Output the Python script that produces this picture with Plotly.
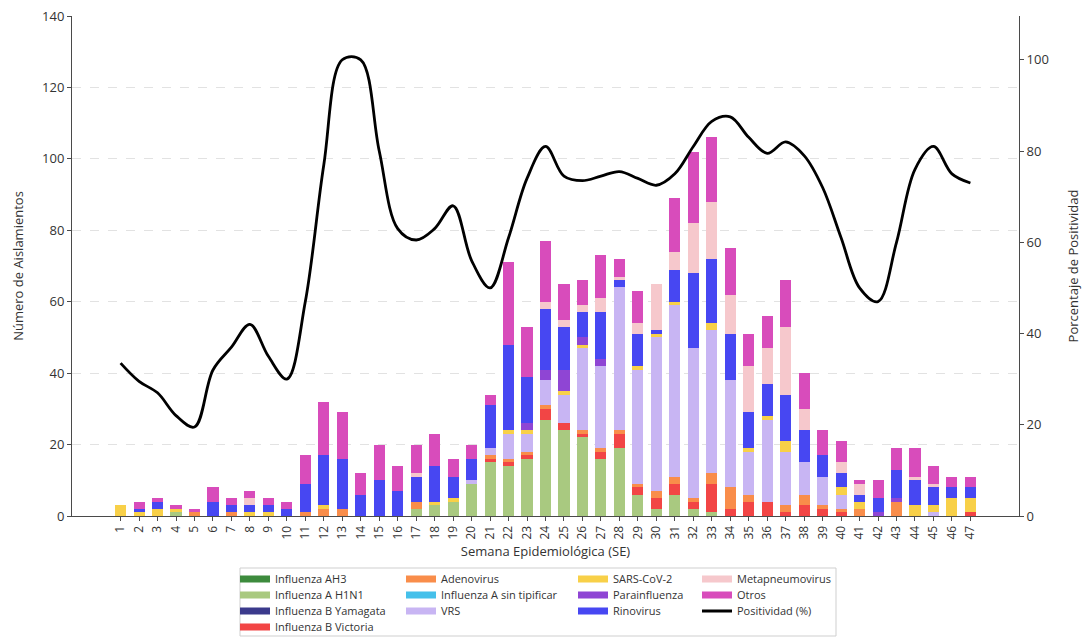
import plotly.graph_objects as go

# Epidemiological weeks
weeks = list(range(1, 48))
week_labels = [str(w) for w in weeks]

# Isolates per week, one list per virus (stack order bottom -> top)
influenza_ah3 = [0, 0, 0, 0, 0, 0, 0, 0, 0, 0, 0, 0, 0, 0, 0, 0, 0, 0, 0, 0, 0, 0, 0, 0,
                 0, 0, 0, 0, 0, 0, 0, 0, 0, 0, 0, 0, 0, 0, 0, 0, 0, 0, 0, 0, 0, 0, 0]
influenza_h1n1 = [0, 0, 0, 1, 0, 0, 0, 0, 0, 0, 0, 0, 0, 0, 0, 0, 2, 3, 4, 9, 15, 14, 16, 27,
                  24, 22, 16, 19, 6, 2, 6, 2, 1, 0, 0, 0, 0, 0, 0, 0, 0, 0, 0, 0, 0, 0, 0]
influenza_b_yamagata = [0, 0, 0, 0, 0, 0, 0, 0, 0, 0, 0, 0, 0, 0, 0, 0, 0, 0, 0, 0, 0, 0, 0, 0,
                        0, 0, 0, 0, 0, 0, 0, 0, 0, 0, 0, 0, 0, 0, 0, 0, 0, 0, 0, 0, 0, 0, 0]
influenza_b_victoria = [0, 0, 0, 0, 0, 0, 0, 0, 0, 0, 0, 0, 0, 0, 0, 0, 0, 0, 0, 0, 1, 1, 1, 3,
                        2, 1, 2, 4, 2, 3, 3, 2, 8, 2, 4, 4, 1, 3, 2, 1, 0, 0, 0, 0, 0, 0, 1]
adenovirus = [0, 0, 0, 0, 1, 0, 1, 0, 0, 0, 1, 2, 2, 0, 0, 0, 2, 0, 0, 0, 1, 1, 1, 1,
              0, 1, 1, 1, 1, 2, 2, 1, 3, 6, 2, 0, 2, 3, 1, 1, 2, 0, 4, 0, 0, 0, 0]
influenza_a_sin_tipificar = [0, 0, 0, 0, 0, 0, 0, 0, 0, 0, 0, 0, 0, 0, 0, 0, 0, 0, 0, 0, 0, 0, 0, 0,
                             0, 0, 0, 0, 0, 0, 0, 0, 0, 0, 0, 0, 0, 0, 0, 0, 0, 0, 0, 0, 0, 0, 0]
vrs = [0, 0, 0, 0, 0, 0, 0, 0, 0, 0, 0, 0, 0, 0, 0, 0, 0, 0, 0, 1, 2, 7, 5, 7,
       8, 23, 23, 40, 32, 43, 48, 42, 40, 30, 12, 23, 15, 9, 8, 4, 0, 0, 0, 0, 1, 0, 0]
sars_cov_2 = [3, 1, 2, 1, 0, 0, 0, 1, 1, 0, 0, 1, 0, 0, 0, 0, 0, 1, 1, 0, 0, 1, 1, 0,
              1, 1, 0, 0, 1, 1, 1, 0, 2, 0, 1, 1, 3, 0, 0, 2, 2, 0, 0, 3, 2, 5, 4]
parainfluenza = [0, 0, 0, 0, 0, 0, 0, 0, 0, 0, 0, 0, 0, 0, 0, 0, 0, 0, 0, 0, 0, 0, 2, 3,
                 6, 2, 2, 0, 0, 0, 0, 0, 0, 0, 0, 0, 0, 0, 0, 0, 0, 1, 1, 0, 0, 0, 0]
rinovirus = [0, 1, 2, 0, 0, 4, 2, 2, 2, 2, 8, 14, 14, 6, 10, 7, 7, 10, 6, 6, 12, 24, 13, 17,
             12, 7, 13, 2, 9, 1, 9, 21, 18, 13, 10, 9, 13, 9, 6, 4, 2, 4, 8, 7, 5, 3, 3]
metapneumovirus = [0, 0, 0, 0, 0, 0, 0, 2, 0, 0, 0, 0, 0, 0, 0, 0, 1, 0, 0, 0, 0, 0, 0, 2,
                   2, 2, 4, 1, 3, 13, 5, 14, 16, 11, 13, 10, 19, 6, 0, 3, 3, 0, 0, 1, 1, 0, 0]
otros = [0, 2, 1, 1, 1, 4, 2, 2, 2, 2, 8, 15, 13, 6, 10, 7, 8, 9, 5, 4, 3, 23, 14, 17,
         10, 7, 12, 5, 9, 0, 15, 20, 18, 13, 9, 9, 13, 10, 7, 6, 1, 5, 6, 8, 5, 3, 3]

# Weekly positivity (%)
positividad = [33.5, 29.5, 27, 22, 19.5, 32, 37, 42, 35, 30, 47, 77, 100, 100, 80, 63,
               60.5, 63, 68, 56, 50, 61, 74, 81, 74.5, 73.5, 74.5, 75.5, 74, 72.5, 75, 81,
               86.5, 87.5, 83, 79.5, 82, 79, 72, 61, 50, 47, 60, 76, 81, 75, 73]

# name, values, colour, legend column, legend row
series = [
    ("Influenza AH3", influenza_ah3, "#3d8b3d", 0, 0),
    ("Influenza A H1N1", influenza_h1n1, "#a9c980", 0, 1),
    ("Influenza B Yamagata", influenza_b_yamagata, "#3b3a8c", 0, 2),
    ("Influenza B Victoria", influenza_b_victoria, "#f24545", 0, 3),
    ("Adenovirus", adenovirus, "#f98d4a", 1, 0),
    ("Influenza A sin tipificar", influenza_a_sin_tipificar, "#45c0ea", 1, 1),
    ("VRS", vrs, "#c8b5f3", 1, 2),
    ("SARS-CoV-2", sars_cov_2, "#f8d048", 2, 0),
    ("Parainfluenza", parainfluenza, "#8f45d4", 2, 1),
    ("Rinovirus", rinovirus, "#4747f2", 2, 2),
    ("Metapneumovirus", metapneumovirus, "#f6c8cc", 3, 0),
    ("Otros", otros, "#d84cbb", 3, 1),
]
line_legend_slot = (3, 2)

# Plot-area geometry in pixels
W, H = 1086, 637
PL, PR, PT, PB = 72, 1019, 16, 516


def paper_x(px):
    return (px - PL) / (PR - PL)


def paper_y(py):
    return (PB - py) / (PB - PT)


legend_text_x = [275, 441, 613, 737]
legend_row_y = [579, 595, 611, 627]

FONT = "Open Sans"
TEXT = "#333333"
AXIS = "#4a4a4a"

fig = go.Figure()
legend_layouts = {}

for i, (name, vals, color, col, row) in enumerate(series):
    lg = "legend" if i == 0 else f"legend{i + 1}"
    fig.add_trace(go.Bar(
        x=weeks, y=vals, name=name, width=0.6,
        marker=dict(color=color, line=dict(width=0)),
        legendgroup=name, showlegend=False,
    ))
    # legend swatch
    fig.add_trace(go.Scatter(
        x=[None], y=[None], mode="lines", name=name,
        line=dict(color=color, width=7),
        legend=lg, legendgroup=name, showlegend=True, hoverinfo="skip",
    ))
    legend_layouts[lg] = (col, row)

line_lg = f"legend{len(series) + 1}"
fig.add_trace(go.Scatter(
    x=weeks, y=positividad, name="Positividad (%)", yaxis="y2",
    mode="lines", line=dict(color="black", width=2.8, shape="spline", smoothing=1.0),
    legend=line_lg,
))
legend_layouts[line_lg] = line_legend_slot

for lg, (col, row) in legend_layouts.items():
    fig.layout[lg] = dict(
        x=paper_x(legend_text_x[col] - 40), y=paper_y(legend_row_y[row]),
        xanchor="left", yanchor="middle", orientation="v",
        bgcolor="rgba(0,0,0,0)", borderwidth=0, itemwidth=30,
        font=dict(family=FONT, size=11, color=TEXT),
    )

# legend frame
fig.add_shape(
    type="rect", xref="paper", yref="paper",
    x0=paper_x(240), x1=paper_x(836), y0=paper_y(636), y1=paper_y(568),
    line=dict(color="#cfcfcf", width=1), fillcolor="rgba(0,0,0,0)", layer="below",
)

fig.update_layout(
    width=W, height=H,
    margin=dict(l=PL, r=W - PR, t=PT, b=H - PB, pad=0, autoexpand=False),
    barmode="stack", bargap=0,
    plot_bgcolor="white", paper_bgcolor="white",
    font=dict(family=FONT, size=12, color=TEXT),
    xaxis=dict(
        range=[-1.63, 49.63], tickmode="array", tickvals=weeks, ticktext=week_labels,
        tickangle=-90, ticks="outside", ticklen=4, tickcolor=AXIS, automargin=False,
        showline=True, linecolor=AXIS, linewidth=1, showgrid=False, zeroline=False,
        tickfont=dict(size=12, color=TEXT),
        title=dict(text="Semana Epidemiológica (SE)", font=dict(size=13, color=TEXT), standoff=8),
    ),
    yaxis=dict(
        range=[0, 140], dtick=20, ticks="outside", ticklen=4, tickcolor=AXIS, automargin=False,
        showline=True, linecolor=AXIS, linewidth=1, zeroline=False,
        showgrid=True, gridcolor="#e2e2e2", griddash="dash", gridwidth=0.8,
        tickfont=dict(size=13, color=TEXT),
        title=dict(text="Número de Aislamientos", font=dict(size=13, color=TEXT)),
    ),
    yaxis2=dict(
        range=[0, 109.6], dtick=20, overlaying="y", side="right", automargin=False,
        ticks="outside", ticklen=4, tickcolor=AXIS,
        showline=True, linecolor=AXIS, linewidth=1, zeroline=False, showgrid=False,
        tickfont=dict(size=13, color=TEXT),
        title=dict(text="Porcentaje de Positividad", font=dict(size=13, color=TEXT), standoff=20),
    ),
)

fig.write_html("out.html")
